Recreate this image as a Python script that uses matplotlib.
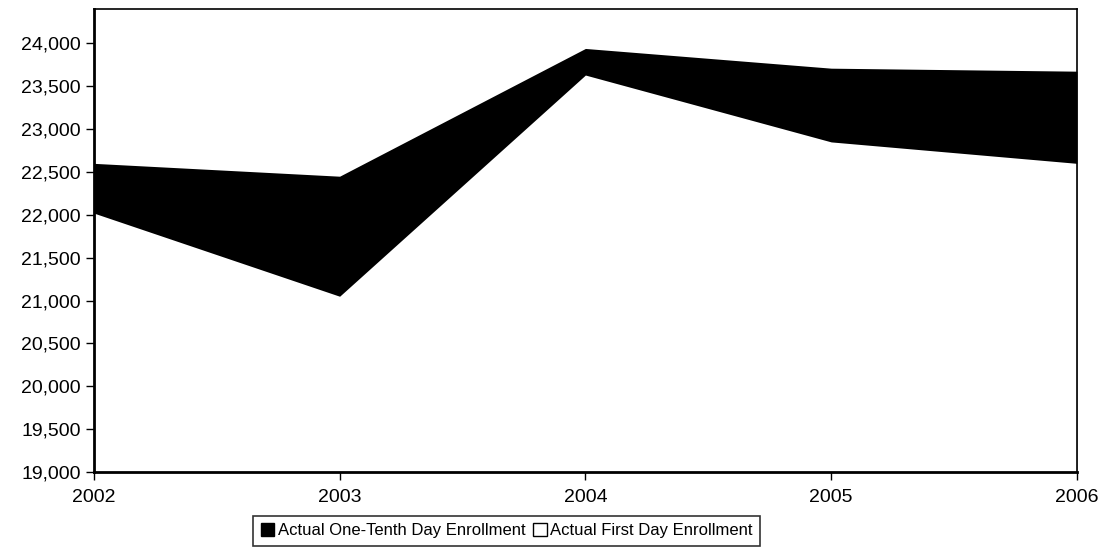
import matplotlib.pyplot as plt
from matplotlib.patches import Patch
from matplotlib.ticker import FuncFormatter

# === data ===
years = [2002, 2003, 2004, 2005, 2006]
one_tenth_day = [22600, 22450, 23940, 23710, 23675]
first_day = [22020, 21050, 23630, 22850, 22600]
y_ticks = list(range(19000, 24001, 500))

plt.rcParams['font.family'] = ['Liberation Sans', 'DejaVu Sans']

fig = plt.figure(figsize=(11.04, 5.57), dpi=100)
ax = fig.add_axes([0.085, 0.1526, 0.8905, 0.8312])

# area chart: black one-tenth area behind, white first-day area in front
ax.fill_between(years, one_tenth_day, 19000, color='black', linewidth=0)
ax.fill_between(years, first_day, 19000, color='white', linewidth=0)

ax.set_xlim(2002, 2006)
ax.set_ylim(19000, 24400)
ax.set_xticks(years)
ax.set_yticks(y_ticks)
ax.yaxis.set_major_formatter(FuncFormatter(lambda v, p: f"{int(v):,}"))
ax.tick_params(axis='both', labelsize=14, direction='out', length=6, width=1, color='black')
ax.tick_params(axis='x', pad=6)

for side in ['left', 'bottom']:
    ax.spines[side].set_linewidth(2)
for side in ['top', 'right']:
    ax.spines[side].set_linewidth(1.2)

handles = [Patch(facecolor='black', edgecolor='black', label='Actual One-Tenth Day Enrollment'),
           Patch(facecolor='white', edgecolor='black', label='Actual First Day Enrollment')]
leg = fig.legend(handles=handles, loc='center', bbox_to_anchor=(0.459, 0.047), ncol=2,
                 fontsize=12, frameon=True, fancybox=False, handlelength=0.8, handleheight=0.8,
                 handletextpad=0.2, columnspacing=0.5, borderpad=0.45, edgecolor='black')
leg.get_frame().set_linewidth(1.2)

fig.savefig("out.png", dpi=100)
